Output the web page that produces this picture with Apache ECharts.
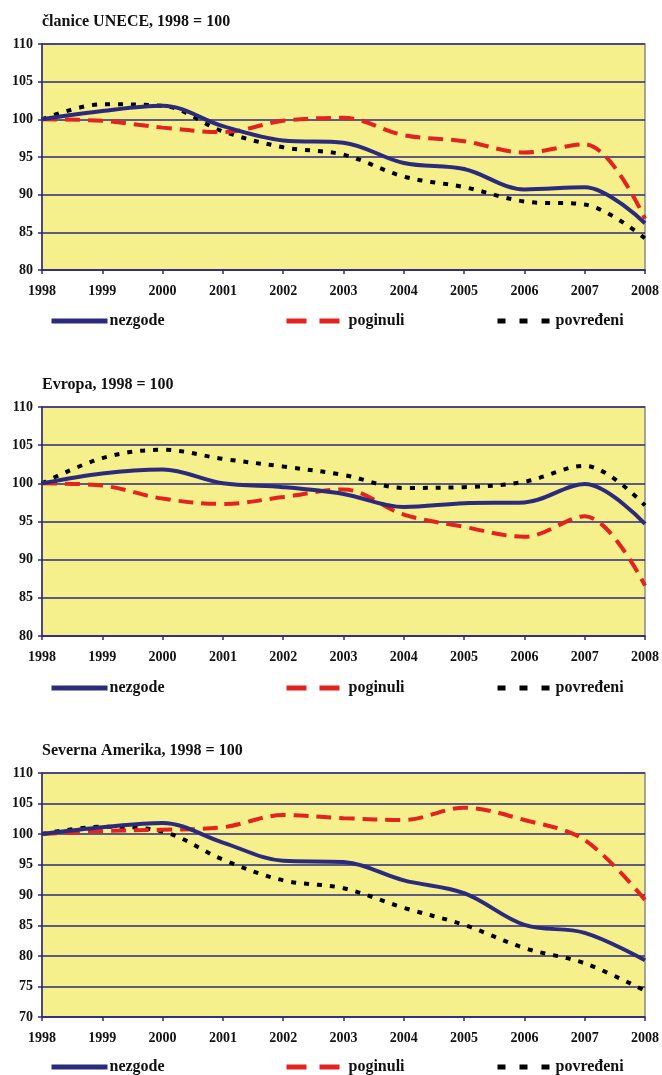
<!DOCTYPE html>
<html>
	<head>
		<meta charset="utf-8" />
		<title></title>
		<script type="text/javascript" src="https://cdn.jsdelivr.net/npm/echarts@6/dist/echarts.min.js"></script>
		<style>
			body { margin: 0; background: #fff; }
		</style>
	</head>
	<body>
	    <div id="main" style="width:662px; height: 1075px;"></div>
		<script>
			var years = [1998, 1999, 2000, 2001, 2002, 2003, 2004, 2005, 2006, 2007, 2008];
			var names = ['nezgode', 'poginuli', 'povređeni'];
			var titles = ['članice UNECE, 1998 = 100', 'Evropa, 1998 = 100', 'Severna Amerika, 1998 = 100'];

			// članice UNECE
			var unece_nezgode   = [100, 101.1, 101.8, 99.1, 97.2, 96.9, 94.2, 93.4, 90.7, 91.0, 86.2];
			var unece_poginuli  = [100, 99.8, 98.9, 98.3, 99.8, 100.2, 97.9, 97.1, 95.6, 96.7, 86.8];
			var unece_povredeni = [100, 102.0, 101.8, 98.4, 96.3, 95.3, 92.4, 91.0, 89.1, 88.7, 84.2];
			// Evropa
			var evropa_nezgode   = [100, 101.3, 101.8, 100.0, 99.5, 98.6, 96.9, 97.4, 97.5, 99.9, 94.7];
			var evropa_poginuli  = [100, 99.7, 98.0, 97.3, 98.2, 99.2, 95.9, 94.3, 93.0, 95.7, 86.6];
			var evropa_povredeni = [100, 103.3, 104.4, 103.2, 102.2, 101.1, 99.4, 99.5, 100.2, 102.3, 97.1];
			// Severna Amerika
			var sa_nezgode   = [100, 101.1, 101.8, 98.6, 95.6, 95.4, 92.4, 90.3, 85.1, 83.8, 79.3];
			var sa_poginuli  = [100, 100.5, 100.7, 101.1, 103.1, 102.6, 102.3, 104.3, 102.3, 99.0, 89.2];
			var sa_povredeni = [100, 101.2, 100.4, 95.8, 92.4, 91.1, 87.9, 85.1, 81.3, 78.8, 74.3];

			var yMins = [80, 80, 70];
			var panels = [
				[unece_nezgode, unece_poginuli, unece_povredeni],
				[evropa_nezgode, evropa_poginuli, evropa_povredeni],
				[sa_nezgode, sa_poginuli, sa_povredeni]
			];

			var font = '"Liberation Serif", "DejaVu Serif", serif';
			var navy = '#2c2a7c';
			var gridTops = [44, 407, 773];
			var gridHeights = [226, 229, 244];
			var legendTops = [308, 675, 1054];

			var lineStyles = [
				{ color: navy, width: 4, type: 'solid' },
				{ color: '#e2231f', width: 4, type: [15, 8] },
				{ color: '#000000', width: 4, type: [5, 8] }
			];
			var legendDash = ['solid', [20, 13], [8, 14]];
			var legendLefts = [44, 279, 490];
			var legendWidths = [56, 60, 56];

			function pairs(vals) {
				var out = [];
				for (var i = 0; i < years.length; i++) out.push([years[i], vals[i]]);
				return out;
			}

			var option = {
				animation: false,
				title: [], grid: [], xAxis: [], yAxis: [], series: [], legend: []
			};

			for (var p = 0; p < 3; p++) {
				option.title.push({
					text: titles[p], left: 37, top: gridTops[p] - 35,
					textStyle: { fontFamily: font, fontSize: 16, fontWeight: 'bold', color: '#111' }
				});
				option.grid.push({
					left: 42, width: 606, top: gridTops[p], height: gridHeights[p],
					show: true, backgroundColor: '#f5f08c', borderColor: '#8a8a8a', borderWidth: 1.5
				});
				option.xAxis.push({
					type: 'value', gridIndex: p, min: 1998, max: 2008, interval: 1,
					axisLine: { lineStyle: { color: navy, width: 1.5 } },
					axisTick: { length: 4, lineStyle: { color: navy, width: 1.5 } },
					splitLine: { show: false },
					axisLabel: {
						formatter: function (v) { return String(v); },
						fontFamily: font, fontSize: 14, fontWeight: 'bold', color: '#111', margin: 14
					}
				});
				option.yAxis.push({
					type: 'value', gridIndex: p, min: yMins[p], max: 110, interval: 5,
					axisLine: { show: true, lineStyle: { color: navy, width: 1.5 } },
					axisTick: { show: true, length: 4, lineStyle: { color: navy, width: 1.5 } },
					splitLine: { lineStyle: { color: navy, width: 1.5 } },
					axisLabel: { fontFamily: font, fontSize: 14, fontWeight: 'bold', color: '#111', margin: 9 }
				});
				for (var s = 0; s < 3; s++) {
					option.series.push({
						name: names[s], type: 'line', xAxisIndex: p, yAxisIndex: p,
						data: pairs(panels[p][s]), smooth: 0.35, symbol: 'none',
						lineStyle: lineStyles[s], itemStyle: { color: lineStyles[s].color },
						z: 3 - s
					});
					option.legend.push({
						data: [names[s]], left: legendLefts[s], top: legendTops[p],
						itemWidth: legendWidths[s], itemHeight: 14, itemGap: 2,
						itemStyle: { opacity: 0 },
						lineStyle: { width: 5, type: legendDash[s] },
						textStyle: { fontFamily: font, fontSize: 16, fontWeight: 'bold', color: '#111', padding: [0, 0, 0, -3] },
						selectedMode: false
					});
				}
			}

			var myChart = echarts.init(document.getElementById('main'));
			myChart.setOption(option);
		</script>
	</body>
</html>
